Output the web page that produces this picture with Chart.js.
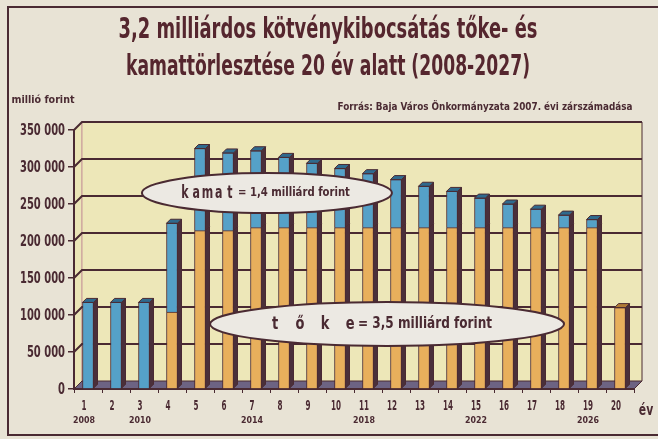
<!DOCTYPE html>
<html>
<head>
<meta charset="utf-8">
<script src="https://cdn.jsdelivr.net/npm/chart.js@4.4.1/dist/chart.umd.min.js"></script>
<style>
  html, body { margin: 0; padding: 0; background: #e8e3d5; }
  canvas { display: block; }
</style>
</head>
<body>
<canvas id="chart" width="658" height="439"></canvas>
<script>
// év (1-20) and the calendar year printed under some of them
const categories = ["1","2","3","4","5","6","7","8","9","10","11","12","13","14","15","16","17","18","19","20"];
const yearMarks = ["2008","","2010","","","","2014","","","","2018","","","","2022","","","","2026",""];

// millió forint
const tokeValues = [0, 0, 0, 104000, 214000, 214000, 218000, 218000, 218000, 218000,
  218000, 218000, 218000, 218000, 218000, 218000, 218000, 218000, 218000, 110000];
const kamatValues = [117000, 117000, 117000, 120000, 111000, 105000, 104000, 95000, 87000, 80000,
  73000, 65000, 56000, 49000, 40000, 32000, 25000, 17000, 11000, 0];

const yTickValues = [0, 50000, 100000, 150000, 200000, 250000, 300000, 350000];

const titleLines = ["3,2 milliárdos kötvénykibocsátás tőke- és", "kamattörlesztése 20 év alatt (2008-2027)"];
const unitLabel = "millió forint";
const sourceLabel = "Forrás: Baja Város Önkormányzata 2007. évi zárszámadása";
const kamatLetters = ["k", "a", "m", "a", "t"];
const kamatTail = "= 1,4 milliárd forint";
const tokeLetters = ["t", "ő", "k", "e"];
const tokeTail = "= 3,5 milliárd forint";

const INK = "#4a2a32";
const FONT = "'Liberation Sans Narrow', 'DejaVu Sans Condensed', 'Liberation Sans', sans-serif";
const WALL = 8;      // depth of the back wall
const BAR_D = 4;     // depth of a column

function fmt(v) {
  return String(v).replace(/\B(?=(\d{3})+(?!\d))/g, " ");
}

function poly(ctx, pts, fill) {
  ctx.beginPath();
  ctx.moveTo(pts[0][0], pts[0][1]);
  for (let i = 1; i < pts.length; i++) ctx.lineTo(pts[i][0], pts[i][1]);
  ctx.closePath();
  ctx.fillStyle = fill;
  ctx.fill();
  ctx.stroke();
}

function measure(ctx, text, size) {
  ctx.save();
  ctx.font = "bold " + size + "px " + FONT;
  const w = ctx.measureText(text).width;
  ctx.restore();
  return w;
}

// text drawn with a horizontal squeeze factor
function squeezed(ctx, text, x, y, size, sx, align, color) {
  ctx.save();
  ctx.font = "bold " + size + "px " + FONT;
  ctx.translate(x, y);
  ctx.scale(sx, 1);
  ctx.fillStyle = color || INK;
  ctx.textAlign = align || "center";
  ctx.textBaseline = "middle";
  ctx.fillText(text, 0, 0);
  ctx.restore();
}

// text squeezed/stretched to a given width, centred on cx
function fitText(ctx, text, cx, cy, size, width, color) {
  squeezed(ctx, text, cx, cy, size, width / measure(ctx, text, size), "center", color);
}

// letters spread evenly across a span
function spreadLetters(ctx, letters, left, right, cy, size, sx) {
  const step = (right - left) / (letters.length - 1);
  letters.forEach((ch, i) => squeezed(ctx, ch, left + i * step, cy, size, sx, "center"));
}

const backdrop = {
  id: "backdrop",
  beforeDraw(chart) {
    const { ctx, chartArea: a, scales: { y } } = chart;
    ctx.save();
    ctx.fillStyle = "#e8e3d5";
    ctx.fillRect(0, 0, chart.width, chart.height);

    // frame
    ctx.strokeStyle = INK;
    ctx.lineWidth = 2;
    ctx.beginPath();
    ctx.moveTo(chart.width, 7);
    ctx.lineTo(8, 7);
    ctx.lineTo(8, 435);
    ctx.lineTo(chart.width, 435);
    ctx.stroke();

    // side + back wall
    ctx.lineWidth = 1;
    ctx.strokeStyle = "#c99a9a";
    poly(ctx, [[a.left, a.top], [a.left + WALL, a.top - WALL], [a.left + WALL, a.bottom - WALL], [a.left, a.bottom]], "#ebe5b6");
    ctx.fillStyle = "#ede7b8";
    ctx.fillRect(a.left + WALL, a.top - WALL, a.right - a.left, a.bottom - a.top);
    ctx.beginPath();
    ctx.moveTo(a.left + WALL, a.top - WALL);
    ctx.lineTo(a.left + WALL, a.bottom - WALL);
    ctx.stroke();
    ctx.strokeStyle = INK;
    ctx.beginPath();
    ctx.moveTo(a.right + WALL, a.top - WALL);
    ctx.lineTo(a.right + WALL, a.bottom - WALL);
    ctx.stroke();

    // gridlines on the back wall
    ctx.lineWidth = 2;
    yTickValues.forEach((v) => {
      if (v === 0) return;
      const py = y.getPixelForValue(v);
      ctx.beginPath();
      ctx.moveTo(a.left, py);
      ctx.lineTo(a.left + WALL, py - WALL);
      ctx.lineTo(a.right + WALL, py - WALL);
      ctx.stroke();
    });

    // floor
    ctx.lineWidth = 1;
    poly(ctx, [[a.left, a.bottom], [a.right, a.bottom], [a.right + WALL, a.bottom - WALL], [a.left + WALL, a.bottom - WALL]], "#6d6383");
    ctx.restore();
  },
};

const bars3d = {
  id: "bars3d",
  afterDatasetsDraw(chart) {
    const { ctx } = chart;
    const metas = chart.getSortedVisibleDatasetMetas();
    const caps = ["#b07a36", "#2f6a8e"];
    ctx.save();
    ctx.strokeStyle = INK;
    ctx.lineWidth = 1;
    metas.forEach((meta, di) => {
      meta.data.forEach((el, i) => {
        const { x, y, base, width } = el.getProps(["x", "y", "base", "width"], true);
        if (Math.abs(base - y) < 0.5) return;
        const l = x - width / 2, r = x + width / 2, d = BAR_D;
        poly(ctx, [[r, y], [r + d, y - d], [r + d, base - d], [r, base]], "#4a2f3a");
        const covered = metas.slice(di + 1).some((m) => {
          const e = m.data[i];
          return Math.abs(e.base - e.y) >= 0.5;
        });
        if (!covered) poly(ctx, [[l, y], [l + d, y - d], [r + d, y - d], [r, y]], caps[di]);
      });
    });
    ctx.restore();
  },
};

const notes = {
  id: "notes",
  afterDraw(chart) {
    const { ctx, chartArea: a, scales: { x, y } } = chart;

    // title + small texts
    fitText(ctx, titleLines[0], 328, 31, 28, 419, "#55262e");
    fitText(ctx, titleLines[1], 328, 68, 28, 404, "#55262e");
    fitText(ctx, unitLabel, 43, 100, 11, 63);
    fitText(ctx, sourceLabel, 485, 107, 10, 295);

    // y tick labels (narrow face)
    const ySx = 45 / measure(ctx, fmt(350000), 15);
    yTickValues.forEach((v) => {
      squeezed(ctx, fmt(v), a.left - 9, y.getPixelForValue(v) + 1, 15, ySx, "right");
    });

    // x tick labels and calendar years
    const xSx = 10 / measure(ctx, "10", 14);
    categories.forEach((c, i) => {
      const px = x.getPixelForValue(i) - 4;
      squeezed(ctx, c, px, 406, 14, xSx, "center");
      if (yearMarks[i]) fitText(ctx, yearMarks[i], px, 421, 9, 22);
    });
    squeezed(ctx, "év", a.right + 12, 411, 15, 0.8, "center");

    // callout ellipses
    ctx.save();
    ctx.strokeStyle = INK;
    ctx.lineWidth = 2;
    ctx.fillStyle = "#ece9e3";
    const e1x = x.getPixelForValue(6.39), e1y = y.getPixelForValue(264800);
    const e2x = x.getPixelForValue(10.68), e2y = y.getPixelForValue(87800);
    ctx.beginPath();
    ctx.ellipse(e1x, e1y, 125, 20, 0, 0, Math.PI * 2);
    ctx.fill();
    ctx.stroke();
    ctx.beginPath();
    ctx.ellipse(e2x, e2y, 177, 22, 0, 0, Math.PI * 2);
    ctx.fill();
    ctx.stroke();
    ctx.restore();

    spreadLetters(ctx, kamatLetters, e1x - 82, e1x - 37, e1y + 1, 17, 0.72);
    fitText(ctx, kamatTail, e1x + 27, e1y, 13, 112);
    spreadLetters(ctx, tokeLetters, e2x - 112, e2x - 37, e2y + 1, 17, 0.85);
    fitText(ctx, tokeTail, e2x + 38, e2y, 16, 134);
  },
};

new Chart(document.getElementById("chart"), {
  type: "bar",
  data: {
    labels: categories,
    datasets: [
      { label: "tőke", data: tokeValues, backgroundColor: "#e8af5c", borderColor: INK, borderWidth: 1 },
      { label: "kamat", data: kamatValues, backgroundColor: "#55a1c8", borderColor: INK, borderWidth: 1 },
    ],
  },
  options: {
    responsive: false,
    animation: false,
    layout: { padding: { left: 10, right: 24, top: 130, bottom: 0 } },
    datasets: { bar: { barThickness: 11 } },
    plugins: { legend: { display: false }, tooltip: { enabled: false }, title: { display: false } },
    scales: {
      x: {
        stacked: true,
        afterFit: (s) => { s.height = 50; },
        grid: { drawOnChartArea: false, drawTicks: true, tickLength: 4, color: INK, offset: true },
        border: { display: true, color: INK, width: 2 },
        ticks: { display: false },
      },
      y: {
        stacked: true,
        min: 0,
        max: 350000,
        afterFit: (s) => { s.width = 64; },
        afterBuildTicks: (s) => { s.ticks = yTickValues.map((v) => ({ value: v })); },
        grid: { drawOnChartArea: false, drawTicks: true, tickLength: 6, color: INK, lineWidth: 1.5 },
        border: { display: true, color: INK, width: 2 },
        ticks: { display: false },
      },
    },
  },
  plugins: [backdrop, bars3d, notes],
});
</script>
</body>
</html>
